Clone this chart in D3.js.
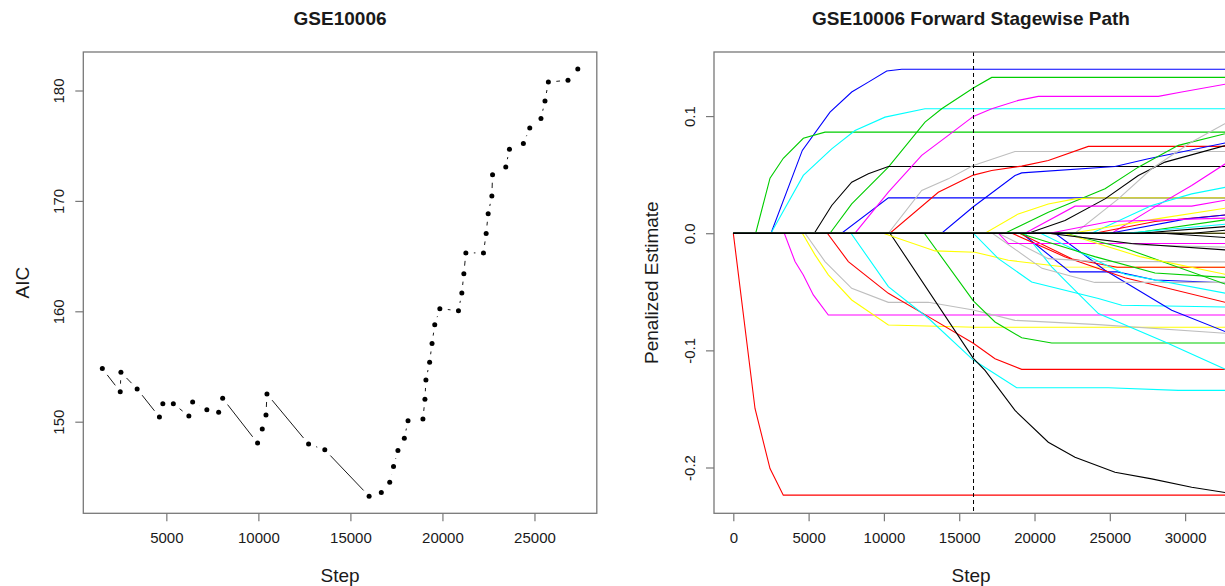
<!DOCTYPE html>
<html>
<head>
<meta charset="utf-8">
<script src="https://cdn.jsdelivr.net/npm/d3@7"></script>
<style>
  body { margin: 0; background: #fff; }
  svg { display: block; font-family: "Liberation Sans", Arial, sans-serif; }
</style>
</head>
<body>
<svg id="canvas" width="1225" height="586"></svg>
<script>
// ---- left panel: AIC along the path ----
const aicStep = [1522, 2495, 2533, 3413, 4625, 4810, 5380, 6223, 6429, 7201, 7842, 8060,
  9957, 10212, 10413, 10467, 12728, 13609, 16016, 16679, 17136, 17342, 17582, 17929,
  18130, 18940, 19049, 19103, 19304, 19435, 19582, 19859, 20870, 21054, 21163, 21272,
  22228, 22375, 22484, 22685, 22723, 23440, 23641, 24397, 24745, 25353, 25571, 25755,
  26821, 27353];
const aicValue = [154.81, 152.72, 154.48, 152.97, 150.42, 151.63, 151.63, 150.51, 151.78,
  151.09, 150.85, 152.12, 148.06, 149.33, 150.61, 152.51, 147.97, 147.46, 143.25, 143.58,
  144.52, 145.94, 147.40, 148.49, 150.09, 150.25, 152.03, 153.78, 155.39, 157.08, 158.78,
  160.24, 160.05, 161.66, 163.41, 165.29, 165.29, 167.05, 168.83, 170.44, 172.37, 173.07,
  174.68, 175.19, 176.61, 177.46, 179.06, 180.76, 180.93, 181.94];
const leftXTicks = [5000, 10000, 15000, 20000, 25000];
const leftYTicks = [150, 160, 170, 180];

// ---- right panel: coefficient paths (knots of [step, estimate]) ----
const rightXTicks = [0, 5000, 10000, 15000, 20000, 25000, 30000];
const rightYTicks = [-0.2, -0.1, 0.0, 0.1];
const rightYLabels = ["-0.2", "-0.1", "0.0", "0.1"];
const rightXDomain = [-1282, 33332];
const rightYDomain = [-0.2391, 0.1547];
const chosenStep = 15950;

const pathColors = [
  "yellow", "blue", "green", "cyan", "green", "black", "blue", "magenta", "gray", "red",
  "blue", "green", "yellow", "black", "gray", "magenta", "magenta", "cyan",
  "red", "magenta", "yellow", "gray", "red", "cyan", "black", "green", "yellow",
  "cyan", "cyan", "blue", "blue", "red", "red", "gray", "gray", "magenta", "green",
  "cyan", "yellow", "red", "yellow", "blue", "green", "black", "cyan", "magenta",
  "gray", "green", "black", "black", "black", "black"
];
const pathKnots = [
  [[0, 0], [33000, 0]],
  [[0, 0], [2503, 0], [4582, 0.0707], [6421, 0.1034], [7862, 0.1205], [8966, 0.129], [10186, 0.1385], [11180, 0.14], [33000, 0.14]],
  [[0, 0], [1487, 0], [2437, 0.047], [3320, 0.064], [4648, 0.081], [6089, 0.0863], [33000, 0.0863]],
  [[0, 0], [2500, 0], [4648, 0.0493], [6534, 0.072], [8081, 0.0877], [10073, 0.0991], [12729, 0.1063], [33000, 0.1063]],
  [[0, 0], [6420, 0], [7862, 0.025], [10295, 0.0564], [12729, 0.0949], [13836, 0.1063], [15937, 0.124], [17159, 0.133], [33000, 0.133]],
  [[0, 0], [5380, 0], [6534, 0.0237], [7862, 0.0436], [8966, 0.0507], [10295, 0.057], [33000, 0.057]],
  [[0, 0], [7196, 0], [10295, 0.0302], [33000, 0.0302]],
  [[0, 0], [8081, 0], [10295, 0.035], [12509, 0.0664], [14276, 0.0835], [15937, 0.0997], [17159, 0.1063], [18925, 0.1134], [20253, 0.1168], [28222, 0.1168], [29771, 0.1205], [33000, 0.128]],
  [[0, 0], [10295, 0], [12509, 0.0365], [14276, 0.0464], [15937, 0.0579], [18704, 0.0698], [33000, 0.0698]],
  [[0, 0], [10405, 0], [13612, 0.035], [15937, 0.0496], [17159, 0.0536], [19150, 0.0573], [20916, 0.0621], [23572, 0.0741], [33000, 0.0741]],
  [[0, 0], [13836, 0], [15937, 0.0226], [18704, 0.0493], [19150, 0.0515], [25345, 0.057], [27557, 0.0635], [33000, 0.078]],
  [[0, 0], [18040, 0], [20916, 0.018], [24682, 0.0379], [26893, 0.0564], [29550, 0.075], [33000, 0.086]],
  [[0, 0], [16713, 0], [18925, 0.0165], [20916, 0.025], [22689, 0.0293], [24000, 0.0302], [33000, 0.0302]],
  [[0, 0], [19590, 0], [22025, 0.0108], [24682, 0.0293], [26893, 0.0493], [28665, 0.0607], [33000, 0.076]],
  [[0, 0], [22689, 0], [25566, 0.0293], [27780, 0.055], [30436, 0.0778], [33000, 0.096]],
  [[0, 0], [19370, 0], [22689, 0.0231], [30436, 0.0231], [33000, 0.029]],
  [[0, 0], [25127, 0], [27780, 0.0208], [30436, 0.0408], [33000, 0.062]],
  [[0, 0], [23793, 0], [27780, 0.0237], [30436, 0.0336], [33000, 0.04]],
  [[0, 0], [1441, -0.1496], [2437, -0.2009], [3320, -0.2236], [33000, -0.2236]],
  [[0, 0], [3387, 0], [4097, -0.0242], [4648, -0.0356], [5312, -0.0527], [6308, -0.0698], [33000, -0.0698]],
  [[0, 0], [4582, 0], [5425, -0.0185], [6308, -0.0356], [7862, -0.057], [10295, -0.0783], [16050, -0.0803], [33000, -0.0803]],
  [[0, 0], [4760, 0], [6089, -0.0242], [7862, -0.047], [10295, -0.059], [12951, -0.059], [15937, -0.0655], [18704, -0.0744], [24240, -0.078], [33000, -0.0857]],
  [[0, 0], [6243, 0], [7639, -0.0242], [10295, -0.0513], [12951, -0.0712], [15937, -0.094], [17378, -0.1071], [19150, -0.1162], [33000, -0.1162]],
  [[0, 0], [7815, 0], [10295, -0.0456], [12951, -0.0726], [15937, -0.1083], [18815, -0.1319], [24903, -0.1319], [29550, -0.1342], [33000, -0.1342]],
  [[0, 0], [10405, 0], [15937, -0.1068], [16713, -0.1171], [18704, -0.1513], [20916, -0.1784], [22689, -0.1912], [25345, -0.204], [27780, -0.2097], [30436, -0.2168], [33000, -0.222]],
  [[0, 0], [12684, 0], [15937, -0.0578], [17378, -0.0758], [19150, -0.0892], [21142, -0.0937], [33000, -0.0937]],
  [[0, 0], [9960, 0], [13393, -0.0151], [16050, -0.0162], [18261, -0.0231], [22025, -0.0288], [33000, -0.029]],
  [[0, 0], [15937, 0], [17600, -0.0217], [19810, -0.0416], [24240, -0.0558], [25790, -0.0615], [33000, -0.063]],
  [[0, 0], [19370, 0], [21142, -0.0288], [22025, -0.0402], [24240, -0.0686], [28665, -0.0929], [33000, -0.118]],
  [[0, 0], [21364, 0], [24682, -0.0316], [25790, -0.0402], [29108, -0.0658], [33000, -0.0857]],
  [[0, 0], [19150, 0], [22357, -0.033], [25500, -0.033], [28000, -0.04], [33000, -0.0425]],
  [[0, 0], [18500, 0], [22000, -0.02], [26000, -0.038], [33000, -0.06]],
  [[0, 0], [19000, 0], [22500, -0.022], [25500, -0.029], [33000, -0.029]],
  [[0, 0], [17600, 0], [20916, -0.0217], [24000, -0.024], [33000, -0.0245]],
  [[0, 0], [17200, 0], [20500, -0.03], [24000, -0.042], [33000, -0.042]],
  [[0, 0], [17600, 0], [18261, -0.0088], [33000, -0.0088]],
  [[0, 0], [22025, 0], [26009, -0.0128], [33000, -0.045]],
  [[0, 0], [20400, 0], [26000, -0.035], [33000, -0.052]],
  [[0, 0], [22000, 0], [27000, -0.02], [33000, -0.036]],
  [[0, 0], [24000, 0], [28000, 0.01], [33000, 0.016]],
  [[0, 0], [22500, 0], [28000, 0.012], [33000, 0.022]],
  [[0, 0], [25000, 0], [30000, 0.012], [33000, 0.016]],
  [[0, 0], [26500, 0], [33000, 0.012]],
  [[0, 0], [27000, 0], [33000, 0.006]],
  [[0, 0], [26000, 0], [33000, 0.008]],
  [[0, 0], [21000, 0], [25000, 0.01], [33000, 0.013]],
  [[0, 0], [21000, 0], [27000, -0.01], [33000, -0.012]],
  [[0, 0], [19000, 0], [24000, -0.02], [28000, -0.034], [33000, -0.038]],
  [[0, 0], [20916, 0], [26450, -0.0088], [33000, -0.0145]],
  [[0, 0], [33000, 0]],
  [[0, 0], [30500, 0], [33000, 0.003]],
  [[0, 0], [28500, 0], [33000, -0.004]]
];

const rPalette = {
  black: "#000000", red: "#FF0000", green: "#00CD00", blue: "#0000FF",
  cyan: "#00FFFF", magenta: "#FF00FF", yellow: "#FFFF00", gray: "#BEBEBE"
};

const svg = d3.select("#canvas");
const frameColor = "#787878";
const textColor = "#1a1a1a";
const plotTop = 52, plotBottom = 513.3;

function pad(ext) {
  const d = (ext[1] - ext[0]) * 0.04;
  return [ext[0] - d, ext[1] + d];
}

function drawFrame(g, x, y, xTicks, yTicks, yLabels, o) {
  const [x0, x1] = x.range();
  g.append("rect")
    .attr("x", x0).attr("y", plotTop)
    .attr("width", x1 - x0).attr("height", plotBottom - plotTop)
    .attr("fill", "none").attr("stroke", frameColor).attr("stroke-width", 1.3);

  const xa = g.append("g")
    .attr("transform", `translate(0,${plotBottom})`)
    .call(d3.axisBottom(x).tickValues(xTicks).tickSize(8).tickSizeOuter(0).tickPadding(11).tickFormat(d3.format("d")));
  xa.select(".domain").remove();
  xa.selectAll("line").attr("stroke", frameColor).attr("stroke-width", 1.2);
  xa.selectAll("text").attr("fill", textColor).style("font-size", "15px")
    .attr("font-family", "'Liberation Sans', Arial, sans-serif");

  const ya = g.append("g")
    .attr("transform", `translate(${x0},0)`)
    .call(d3.axisLeft(y).tickValues(yTicks).tickSize(8).tickSizeOuter(0)
      .tickFormat((d, i) => yLabels ? yLabels[i] : d));
  ya.select(".domain").remove();
  ya.selectAll("line").attr("stroke", frameColor).attr("stroke-width", 1.2);
  ya.selectAll("text")
    .attr("x", null).attr("dy", null).attr("y", null)
    .attr("transform", "translate(-19,0) rotate(-90)")
    .attr("text-anchor", "middle")
    .attr("fill", textColor).style("font-size", "15px")
    .attr("font-family", "'Liberation Sans', Arial, sans-serif");

  const cx = o.centerX || (x0 + x1) / 2;
  g.append("text").attr("x", cx).attr("y", 25).attr("text-anchor", "middle")
    .attr("font-weight", "bold").style("font-size", "19px").attr("fill", textColor).text(o.title);
  g.append("text").attr("x", cx).attr("y", 582).attr("text-anchor", "middle")
    .style("font-size", "19px").attr("fill", textColor).text("Step");
  g.append("text").attr("transform", `translate(${o.ylabX},${(plotTop + plotBottom) / 2}) rotate(-90)`)
    .attr("text-anchor", "middle").style("font-size", "19px").attr("fill", textColor).text(o.ylab);
}

// ---- left panel ----
const xL = d3.scaleLinear().domain(pad(d3.extent(aicStep))).range([83.3, 596.8]);
const yL = d3.scaleLinear().domain(pad(d3.extent(aicValue))).range([plotBottom, plotTop]);
const left = svg.append("g");
drawFrame(left, xL, yL, leftXTicks, leftYTicks, null, { title: "GSE10006", ylab: "AIC", ylabX: 29 });

// type = "b": segments stop short of each point
const aicPts = aicStep.map((s, i) => [xL(s), yL(aicValue[i])]);
const gap = 8;
const segs = [];
for (let i = 1; i < aicPts.length; i++) {
  const [ax, ay] = aicPts[i - 1], [bx, by] = aicPts[i];
  const d = Math.hypot(bx - ax, by - ay);
  if (d <= 2 * gap) continue;
  const ux = (bx - ax) / d, uy = (by - ay) / d;
  segs.push([ax + ux * gap, ay + uy * gap, bx - ux * gap, by - uy * gap]);
}
left.append("g").selectAll("line").data(segs).enter().append("line")
  .attr("x1", d => d[0]).attr("y1", d => d[1]).attr("x2", d => d[2]).attr("y2", d => d[3])
  .attr("stroke", "#000").attr("stroke-width", 0.9);
left.append("g").selectAll("circle").data(aicStep).enter().append("circle")
  .attr("cx", d => xL(d)).attr("cy", (d, i) => yL(aicValue[i]))
  .attr("r", 2.5).attr("fill", "#000");

// ---- right panel ----
const xR = d3.scaleLinear().domain(rightXDomain).range([714, 1235.3]);
const yR = d3.scaleLinear().domain(rightYDomain).range([plotBottom, plotTop]);
const right = svg.append("g");

svg.append("defs").append("clipPath").attr("id", "clipR")
  .append("rect").attr("x", 714).attr("y", plotTop).attr("width", 521.3).attr("height", plotBottom - plotTop);

const line = d3.line().x(d => xR(d[0])).y(d => yR(d[1]));
right.append("g").attr("clip-path", "url(#clipR)")
  .selectAll("path").data(pathKnots).enter().append("path")
  .attr("d", line)
  .attr("fill", "none")
  .attr("stroke", (d, i) => rPalette[pathColors[i]])
  .attr("stroke-width", 1.1);

right.append("line")
  .attr("x1", xR(chosenStep)).attr("x2", xR(chosenStep))
  .attr("y1", plotTop).attr("y2", plotBottom)
  .attr("stroke", "#000").attr("stroke-width", 1).attr("stroke-dasharray", "4,3");

drawFrame(right, xR, yR, rightXTicks, rightYTicks, rightYLabels,
  { title: "GSE10006 Forward Stagewise Path", ylab: "Penalized Estimate", ylabX: 658, centerX: 971 });
</script>
</body>
</html>
